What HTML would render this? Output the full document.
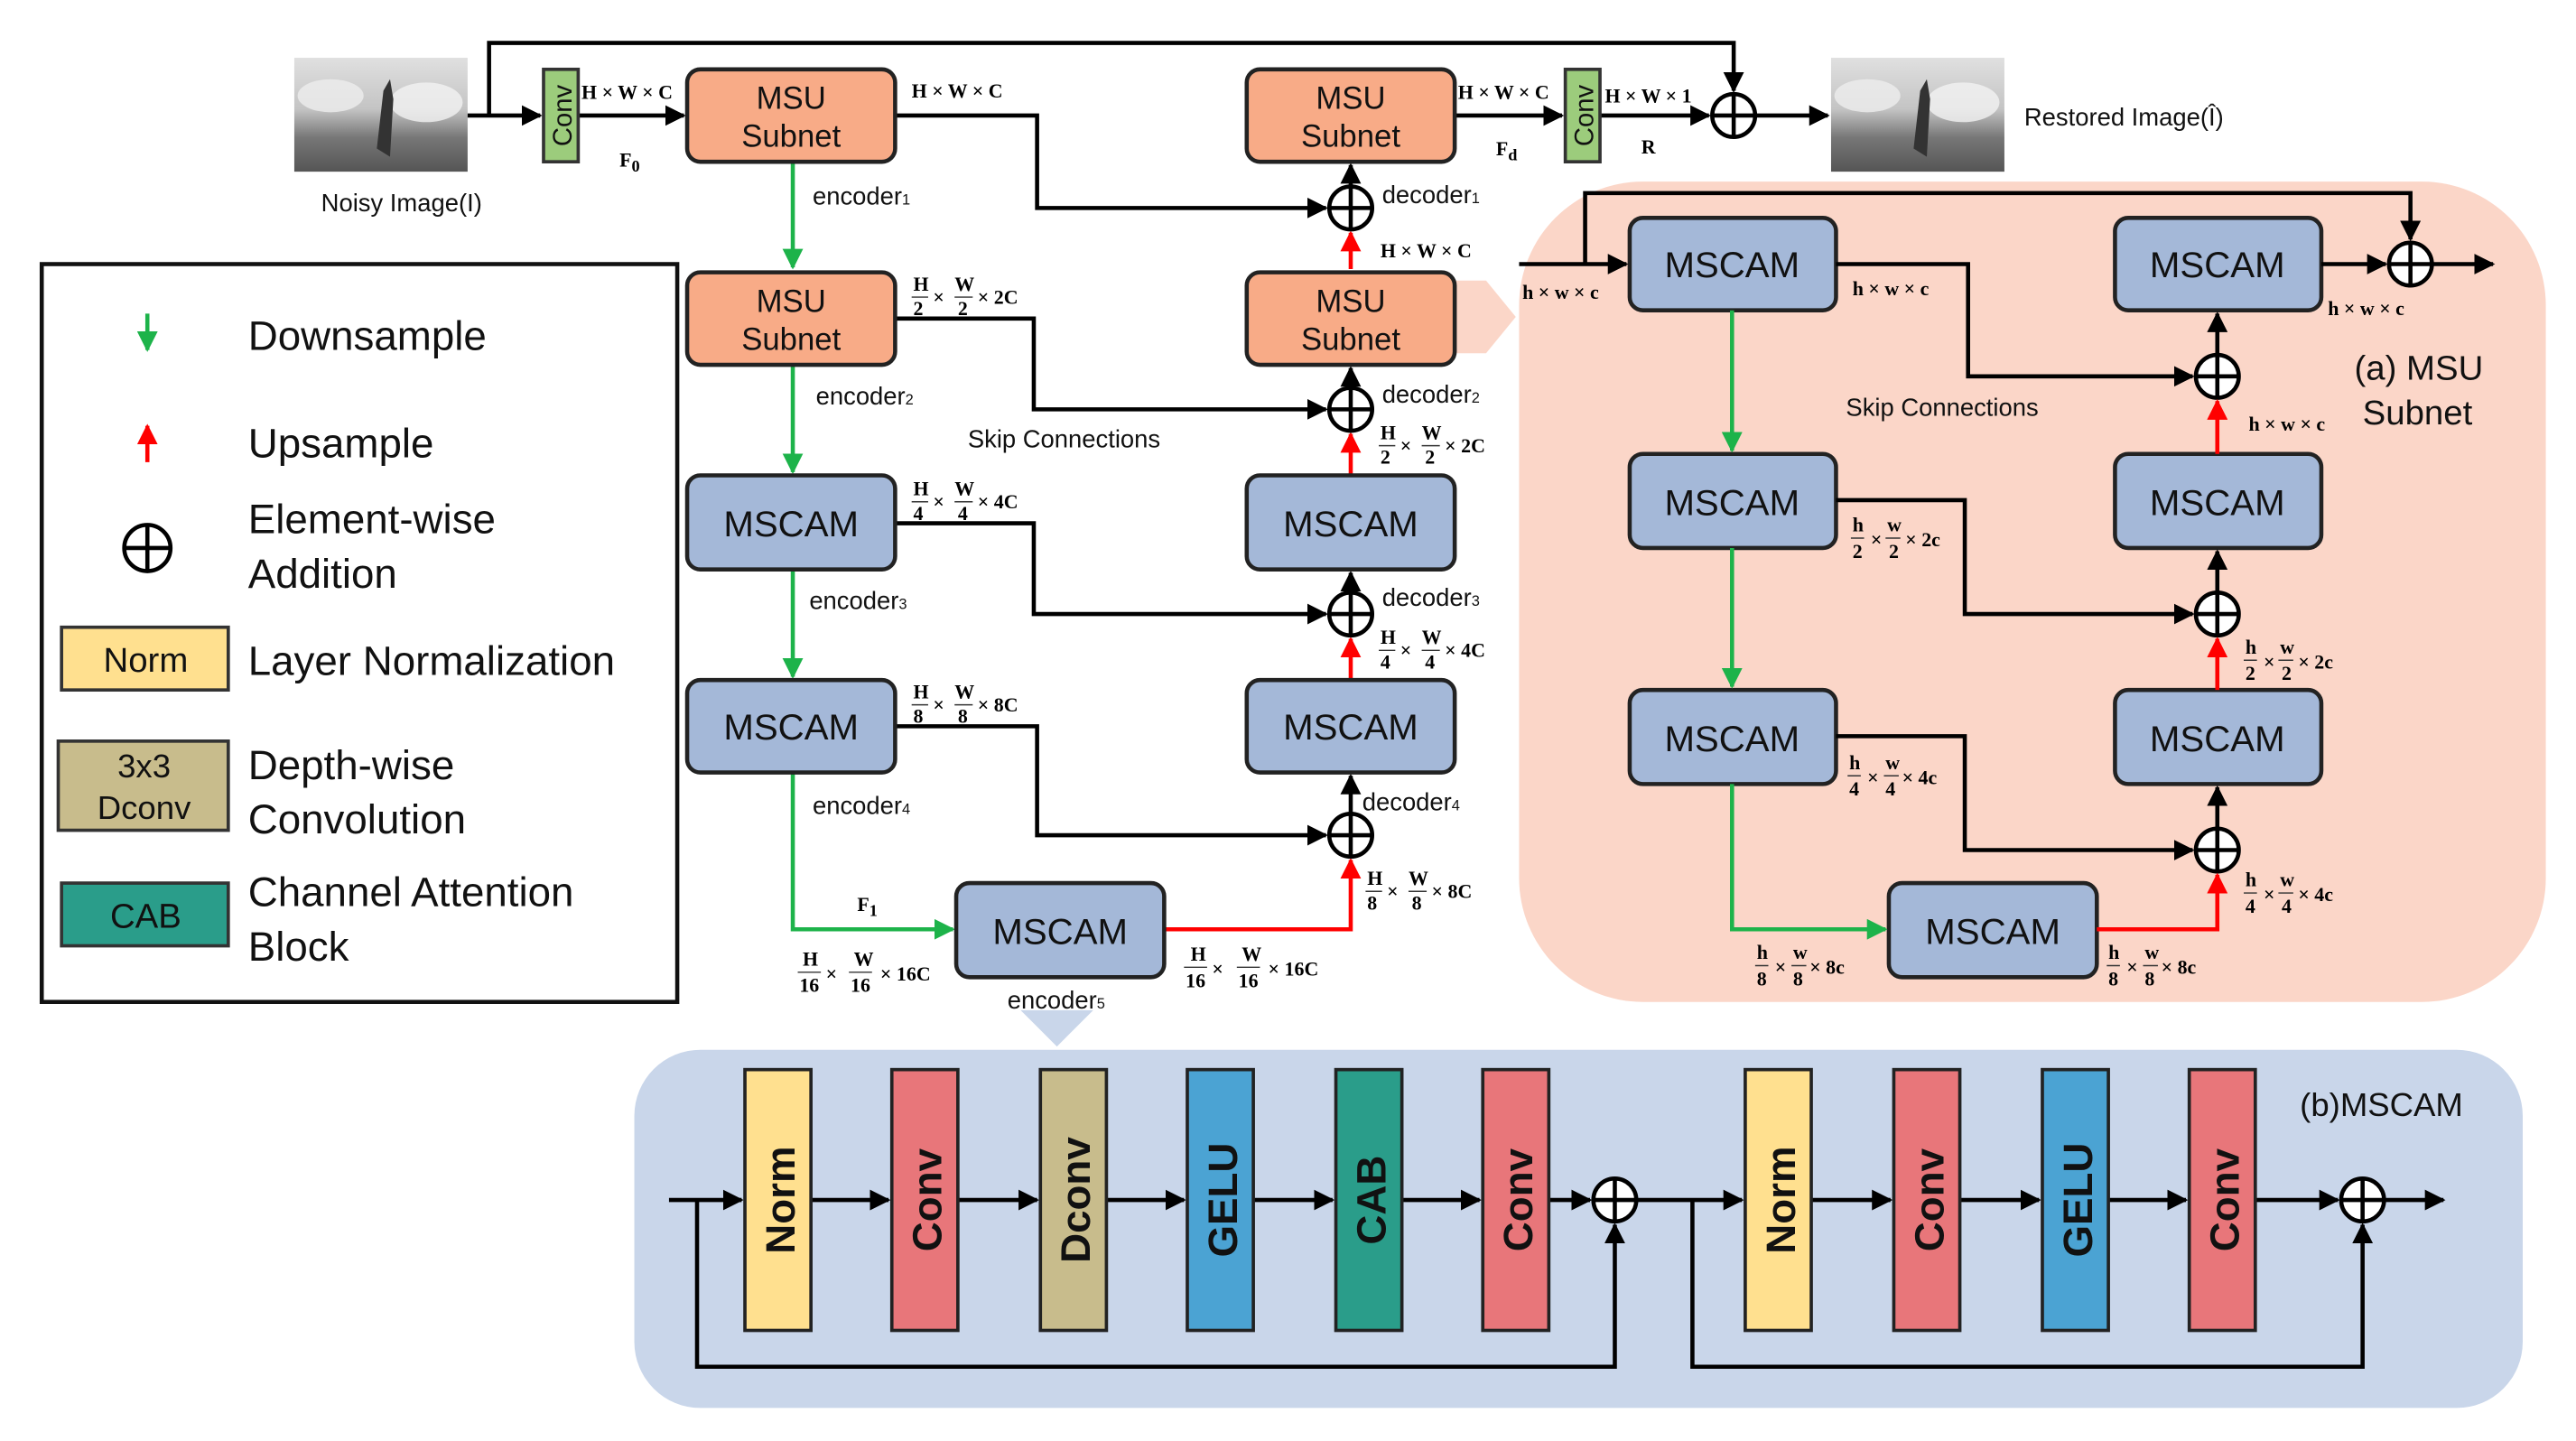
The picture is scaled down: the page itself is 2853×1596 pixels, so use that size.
<!DOCTYPE html>
<html><head><meta charset="utf-8"><style>
html,body{margin:0;padding:0;background:#fff}
svg{display:block}
text{font-family:"Liberation Sans",sans-serif}
text.s, .s text{font-family:"Liberation Serif",serif;font-size:12px;font-weight:bold}
.b{font-size:19px;fill:#111}
.m{font-size:22px;fill:#111}
.lg{font-size:25px;fill:#111}
.lab{font-size:15px;fill:#111}
</style></head><body>
<svg width="2853" height="1596" viewBox="0 0 1560 873" xmlns="http://www.w3.org/2000/svg">
<defs>
<marker id="ak" viewBox="0 0 10 10" refX="9" refY="5" markerWidth="5" markerHeight="5" orient="auto"><path d="M0,0L10,5L0,10z" fill="#000"/></marker>
<marker id="ag" viewBox="0 0 10 10" refX="9" refY="5" markerWidth="5" markerHeight="5" orient="auto"><path d="M0,0L10,5L0,10z" fill="#1db34a"/></marker>
<marker id="ar" viewBox="0 0 10 10" refX="9" refY="5" markerWidth="5" markerHeight="5" orient="auto"><path d="M0,0L10,5L0,10z" fill="#f00"/></marker>
<linearGradient id="img" x1="0" y1="0" x2="0" y2="1"><stop offset="0" stop-color="#e0e0e0"/><stop offset=".45" stop-color="#c4c4c4"/><stop offset=".7" stop-color="#777"/><stop offset="1" stop-color="#555"/></linearGradient>
</defs>

<!-- panels -->
<rect x="920" y="110" width="622" height="497" rx="75" fill="#fbd6c8"/>
<polygon points="880,170 900,170 918,192 900,214 880,214" fill="#fbd6c8"/>
<rect x="384" y="636" width="1144" height="217" rx="40" fill="#c9d6ea"/>
<polygon points="618,612 662,612 640,634" fill="#c9d6ea"/>

<!-- images -->
<g>
<rect x="178" y="35" width="105" height="69" fill="url(#img)"/>
<ellipse cx="200" cy="58" rx="20" ry="10" fill="#eee" opacity=".8"/>
<ellipse cx="258" cy="62" rx="22" ry="12" fill="#f2f2f2" opacity=".8"/>
<path d="M228,90 L232,55 L236,48 L238,60 L236,95z" fill="#333"/>
</g>
<g>
<rect x="1109" y="35" width="105" height="69" fill="url(#img)"/>
<ellipse cx="1131" cy="58" rx="20" ry="10" fill="#eee" opacity=".8"/>
<ellipse cx="1189" cy="62" rx="22" ry="12" fill="#f2f2f2" opacity=".8"/>
<path d="M1159,90 L1163,55 L1167,48 L1169,60 L1167,95z" fill="#333"/>
</g>
<text x="243" y="128" text-anchor="middle" class="lab">Noisy Image(I)</text>
<text x="1226" y="76" class="lab">Restored Image(Î)</text>

<!-- top lines -->
<g stroke="#000" stroke-width="2.5" fill="none">
<path d="M283,70 H327" marker-end="url(#ak)"/>
<path d="M296,70 V26 H1050 V55" marker-end="url(#ak)"/>
<path d="M350,70 H414" marker-end="url(#ak)"/>
<path d="M542,70 H628 V126 H803" marker-end="url(#ak)"/>
<path d="M880,70 H946" marker-end="url(#ak)"/>
<path d="M969,70 H1035" marker-end="url(#ak)"/>
<path d="M1063,70 H1107" marker-end="url(#ak)"/>
<path d="M542,193 H626 V248 H803" marker-end="url(#ak)"/>
<path d="M542,317 H626 V372 H803" marker-end="url(#ak)"/>
<path d="M542,440 H628 V506 H803" marker-end="url(#ak)"/>
<path d="M818,113 V100" marker-end="url(#ak)"/>
<path d="M818,235 V223" marker-end="url(#ak)"/>
<path d="M818,359 V347" marker-end="url(#ak)"/>
<path d="M818,493 V470" marker-end="url(#ak)"/>
</g>
<g stroke="#1db34a" stroke-width="2.5" fill="none">
<path d="M480,98 V162" marker-end="url(#ag)"/>
<path d="M480,221 V286" marker-end="url(#ag)"/>
<path d="M480,345 V410" marker-end="url(#ag)"/>
<path d="M480,468 V563 H577" marker-end="url(#ag)"/>
</g>
<g stroke="#f00" stroke-width="2.5" fill="none">
<path d="M818,163 V141" marker-end="url(#ar)"/>
<path d="M818,288 V263" marker-end="url(#ar)"/>
<path d="M818,412 V387" marker-end="url(#ar)"/>
<path d="M705,563 H818 V521" marker-end="url(#ar)"/>
</g>

<!-- conv blocks -->
<rect x="329" y="42" width="21" height="56" fill="#9ccc7c" stroke="#333" stroke-width="2"/>
<text transform="translate(346,70) rotate(-90)" text-anchor="middle" font-size="16" fill="#111">Conv</text>
<rect x="948" y="42" width="21" height="56" fill="#9ccc7c" stroke="#333" stroke-width="2"/>
<text transform="translate(965,70) rotate(-90)" text-anchor="middle" font-size="16" fill="#111">Conv</text>

<!-- MSU subnets -->
<g fill="#f8ab87" stroke="#222" stroke-width="2.5">
<rect x="416" y="42" width="126" height="56" rx="8"/>
<rect x="416" y="165" width="126" height="56" rx="8"/>
<rect x="755" y="42" width="126" height="56" rx="8"/>
<rect x="755" y="165" width="126" height="56" rx="8"/>
</g>
<g text-anchor="middle" class="b">
<text x="479" y="66">MSU</text><text x="479" y="89">Subnet</text>
<text x="479" y="189">MSU</text><text x="479" y="212">Subnet</text>
<text x="818" y="66">MSU</text><text x="818" y="89">Subnet</text>
<text x="818" y="189">MSU</text><text x="818" y="212">Subnet</text>
</g>

<!-- MSCAM boxes -->
<g fill="#a4b8d8" stroke="#222" stroke-width="2.5">
<rect x="416" y="288" width="126" height="57" rx="8"/>
<rect x="416" y="412" width="126" height="56" rx="8"/>
<rect x="755" y="288" width="126" height="57" rx="8"/>
<rect x="755" y="412" width="126" height="56" rx="8"/>
<rect x="579" y="535" width="126" height="57" rx="8"/>
<rect x="987" y="132" width="125" height="56" rx="8"/>
<rect x="987" y="275" width="125" height="57" rx="8"/>
<rect x="987" y="418" width="125" height="57" rx="8"/>
<rect x="1281" y="132" width="125" height="56" rx="8"/>
<rect x="1281" y="275" width="125" height="57" rx="8"/>
<rect x="1281" y="418" width="125" height="57" rx="8"/>
<rect x="1144" y="535" width="126" height="57" rx="8"/>
</g>
<g text-anchor="middle" class="m">
<text x="479" y="325">MSCAM</text><text x="479" y="448">MSCAM</text>
<text x="818" y="325">MSCAM</text><text x="818" y="448">MSCAM</text>
<text x="642" y="572">MSCAM</text>
<text x="1049" y="168">MSCAM</text><text x="1049" y="312">MSCAM</text><text x="1049" y="455">MSCAM</text>
<text x="1343" y="168">MSCAM</text><text x="1343" y="312">MSCAM</text><text x="1343" y="455">MSCAM</text>
<text x="1207" y="572">MSCAM</text>
</g>

<!-- legend -->
<rect x="25" y="160" width="385" height="447" fill="#fff" stroke="#111" stroke-width="2.5"/>
<path d="M89,190 V212" stroke="#1db34a" stroke-width="2.5" marker-end="url(#ag)"/>
<path d="M89,280 V258" stroke="#f00" stroke-width="2.5" marker-end="url(#ar)"/>
<g class="lg">
<text x="150" y="212">Downsample</text>
<text x="150" y="277">Upsample</text>
<text x="150" y="323">Element-wise</text>
<text x="150" y="356">Addition</text>
<text x="150" y="409">Layer Normalization</text>
<text x="150" y="472">Depth-wise</text>
<text x="150" y="505">Convolution</text>
<text x="150" y="549">Channel Attention</text>
<text x="150" y="582">Block</text>
</g>
<rect x="37" y="380" width="101" height="38" fill="#ffe08f" stroke="#333" stroke-width="2"/>
<text x="88" y="407" text-anchor="middle" font-size="21" fill="#111">Norm</text>
<rect x="35" y="449" width="103" height="54" fill="#c8bc8c" stroke="#333" stroke-width="2"/>
<text x="87" y="471" text-anchor="middle" font-size="20" fill="#111">3x3</text>
<text x="87" y="496" text-anchor="middle" font-size="20" fill="#111">Dconv</text>
<rect x="37" y="535" width="101" height="38" fill="#2a9d8a" stroke="#333" stroke-width="2"/>
<text x="88" y="562" text-anchor="middle" font-size="21" fill="#111">CAB</text>

<!-- circles -->
<g fill="#fff" stroke="#000" stroke-width="2.5">
<circle cx="1050" cy="70" r="13"/><circle cx="818" cy="126" r="13"/><circle cx="818" cy="248" r="13"/>
<circle cx="818" cy="372" r="13"/><circle cx="818" cy="506" r="13"/>
<circle cx="1460" cy="160" r="13"/><circle cx="1343" cy="228" r="13"/><circle cx="1343" cy="372" r="13"/><circle cx="1343" cy="515" r="13"/>
<circle cx="89" cy="332" r="14"/>
</g>
<g stroke="#000" stroke-width="2.5">
<path d="M1037,70H1063M1050,57V83M805,126H831M818,113V139M805,248H831M818,235V261M805,372H831M818,359V385M805,506H831M818,493V519"/>
<path d="M1447,160H1473M1460,147V173M1330,228H1356M1343,215V241M1330,372H1356M1343,359V385M1330,515H1356M1343,502V528M75,332H103M89,318V346"/>
</g>

<!-- labels top -->
<g class="s">
<text x="352" y="60">H × W × C</text>
<text x="552" y="59">H × W × C</text>
<text x="883" y="60">H × W × C</text>
<text x="972" y="62">H × W × 1</text>
<text x="836" y="156">H × W × C</text>
<text x="375" y="101" font-size="15">F<tspan font-size="10" dy="3">0</tspan></text>
<text x="906" y="94" font-size="15">F<tspan font-size="10" dy="3">d</tspan></text>
<text x="994" y="93" font-size="15">R</text>
<text x="519" y="552" font-size="15">F<tspan font-size="10" dy="3">1</tspan></text>
</g>
<g class="lab">
<text x="492" y="124">encoder<tspan font-size="9">1</tspan></text>
<text x="494" y="245">encoder<tspan font-size="9">2</tspan></text>
<text x="490" y="369">encoder<tspan font-size="9">3</tspan></text>
<text x="492" y="493">encoder<tspan font-size="9">4</tspan></text>
<text x="610" y="611">encoder<tspan font-size="9">5</tspan></text>
<text x="837" y="123">decoder<tspan font-size="9">1</tspan></text>
<text x="837" y="244">decoder<tspan font-size="9">2</tspan></text>
<text x="837" y="367">decoder<tspan font-size="9">3</tspan></text>
<text x="825" y="491">decoder<tspan font-size="9">4</tspan></text>
<text x="586" y="271">Skip Connections</text>
<text x="1118" y="252">Skip Connections</text>
</g>

<!-- fraction labels -->
<g class="s">
<text x="553" y="176">H</text><text x="553" y="191">2</text>
<text x="565" y="184">×</text><text x="578" y="176">W</text><text x="580" y="191">2</text><text x="592" y="184">× 2C</text>
<text x="553" y="300">H</text><text x="553" y="315">4</text><text x="565" y="308">×</text><text x="578" y="300">W</text><text x="580" y="315">4</text><text x="592" y="308">× 4C</text>
<text x="553" y="423">H</text><text x="553" y="438">8</text><text x="565" y="431">×</text><text x="578" y="423">W</text><text x="580" y="438">8</text><text x="592" y="431">× 8C</text>
<text x="836" y="266">H</text><text x="836" y="281">2</text><text x="848" y="274">×</text><text x="861" y="266">W</text><text x="863" y="281">2</text><text x="875" y="274">× 2C</text>
<text x="836" y="390">H</text><text x="836" y="405">4</text><text x="848" y="398">×</text><text x="861" y="390">W</text><text x="863" y="405">4</text><text x="875" y="398">× 4C</text>
<text x="828" y="536">H</text><text x="828" y="551">8</text><text x="840" y="544">×</text><text x="853" y="536">W</text><text x="855" y="551">8</text><text x="867" y="544">× 8C</text>
<text x="486" y="585">H</text><text x="484" y="601">16</text><text x="500" y="594">×</text><text x="517" y="585">W</text><text x="515" y="601">16</text><text x="533" y="594">× 16C</text>
<text x="721" y="582">H</text><text x="718" y="598">16</text><text x="734" y="591">×</text><text x="752" y="582">W</text><text x="750" y="598">16</text><text x="768" y="591">× 16C</text>
<text x="922" y="181">h × w × c</text>
<text x="1122" y="179">h × w × c</text>
<text x="1410" y="191">h × w × c</text>
<text x="1362" y="261">h × w × c</text>
<text x="1122" y="322">h</text><text x="1122" y="338">2</text><text x="1133" y="331">×</text><text x="1143" y="322">w</text><text x="1144" y="338">2</text><text x="1154" y="331">× 2c</text>
<text x="1360" y="396">h</text><text x="1360" y="412">2</text><text x="1371" y="405">×</text><text x="1381" y="396">w</text><text x="1382" y="412">2</text><text x="1392" y="405">× 2c</text>
<text x="1120" y="466">h</text><text x="1120" y="482">4</text><text x="1131" y="475">×</text><text x="1142" y="466">w</text><text x="1142" y="482">4</text><text x="1152" y="475">× 4c</text>
<text x="1360" y="537">h</text><text x="1360" y="553">4</text><text x="1371" y="546">×</text><text x="1381" y="537">w</text><text x="1382" y="553">4</text><text x="1392" y="546">× 4c</text>
<text x="1064" y="581">h</text><text x="1064" y="597">8</text><text x="1075" y="590">×</text><text x="1086" y="581">w</text><text x="1086" y="597">8</text><text x="1096" y="590">× 8c</text>
<text x="1277" y="581">h</text><text x="1277" y="597">8</text><text x="1288" y="590">×</text><text x="1299" y="581">w</text><text x="1299" y="597">8</text><text x="1309" y="590">× 8c</text>
</g>
<g stroke="#333" stroke-width="0.8">
<path d="M552,180h10M578,180h11M552,304h10M578,304h11M552,427h10M578,427h11"/>
<path d="M835,270h10M861,270h11M835,394h10M861,394h11M827,540h10M853,540h11"/>
<path d="M483,589h14M514,589h14M717,586h14M749,586h14"/>
<path d="M1121,326h8M1142,326h9M1359,400h8M1380,400h9M1119,470h8M1141,470h9M1359,541h8M1380,541h9M1063,585h8M1085,585h9M1276,585h8M1298,585h9"/>
</g>

<!-- right panel lines -->
<g stroke="#000" stroke-width="2.5" fill="none">
<path d="M920,160 H985" marker-end="url(#ak)"/>
<path d="M960,160 V117 H1460 V145" marker-end="url(#ak)"/>
<path d="M1112,160 H1192 V228 H1328" marker-end="url(#ak)"/>
<path d="M1112,303 H1190 V372 H1328" marker-end="url(#ak)"/>
<path d="M1112,446 H1190 V515 H1328" marker-end="url(#ak)"/>
<path d="M1406,160 H1445" marker-end="url(#ak)"/>
<path d="M1473,160 H1510" marker-end="url(#ak)"/>
<path d="M1343,215 V190" marker-end="url(#ak)"/>
<path d="M1343,359 V334" marker-end="url(#ak)"/>
<path d="M1343,502 V477" marker-end="url(#ak)"/>
</g>
<g stroke="#1db34a" stroke-width="2.5" fill="none">
<path d="M1049,188 V273" marker-end="url(#ag)"/>
<path d="M1049,332 V416" marker-end="url(#ag)"/>
<path d="M1049,475 V563 H1142" marker-end="url(#ag)"/>
</g>
<g stroke="#f00" stroke-width="2.5" fill="none">
<path d="M1343,275 V243" marker-end="url(#ar)"/>
<path d="M1343,418 V387" marker-end="url(#ar)"/>
<path d="M1270,563 H1343 V530" marker-end="url(#ar)"/>
</g>
<text x="1426" y="230" font-size="21" fill="#111">(a) MSU</text>
<text x="1431" y="257" font-size="21" fill="#111">Subnet</text>

<!-- MSCAM detail -->
<g stroke="#000" stroke-width="2.5" fill="none">
<path d="M405,727 H449" marker-end="url(#ak)"/>
<path d="M491,727 H538" marker-end="url(#ak)"/>
<path d="M580,727 H628" marker-end="url(#ak)"/>
<path d="M670,727 H717" marker-end="url(#ak)"/>
<path d="M759,727 H807" marker-end="url(#ak)"/>
<path d="M849,727 H896" marker-end="url(#ak)"/>
<path d="M938,727 H963" marker-end="url(#ak)"/>
<path d="M991,727 H1055" marker-end="url(#ak)"/>
<path d="M1097,727 H1145" marker-end="url(#ak)"/>
<path d="M1187,727 H1235" marker-end="url(#ak)"/>
<path d="M1277,727 H1324" marker-end="url(#ak)"/>
<path d="M1366,727 H1416" marker-end="url(#ak)"/>
<path d="M1444,727 H1480" marker-end="url(#ak)"/>
<path d="M422,727 V828 H978 V742" marker-end="url(#ak)"/>
<path d="M1025,727 V828 H1431 V742" marker-end="url(#ak)"/>
</g>
<g fill="#fff" stroke="#000" stroke-width="2.5">
<circle cx="978" cy="727" r="13"/><circle cx="1431" cy="727" r="13"/>
</g>
<path d="M965,727H991M978,714V740M1418,727H1444M1431,714V740" stroke="#000" stroke-width="2.5"/>
<g stroke="#222" stroke-width="2">
<rect x="451" y="648" width="40" height="158" fill="#ffe08f"/>
<rect x="540" y="648" width="40" height="158" fill="#e8767a"/>
<rect x="630" y="648" width="40" height="158" fill="#c8bc8c"/>
<rect x="719" y="648" width="40" height="158" fill="#4ba3d3"/>
<rect x="809" y="648" width="40" height="158" fill="#2a9d8a"/>
<rect x="898" y="648" width="40" height="158" fill="#e8767a"/>
<rect x="1057" y="648" width="40" height="158" fill="#ffe08f"/>
<rect x="1147" y="648" width="40" height="158" fill="#e8767a"/>
<rect x="1237" y="648" width="40" height="158" fill="#4ba3d3"/>
<rect x="1326" y="648" width="40" height="158" fill="#e8767a"/>
</g>
<g font-size="25" font-weight="bold" fill="#111" text-anchor="middle">
<text transform="translate(481,727) rotate(-90)">Norm</text>
<text transform="translate(570,727) rotate(-90)">Conv</text>
<text transform="translate(660,727) rotate(-90)">Dconv</text>
<text transform="translate(749,727) rotate(-90)">GELU</text>
<text transform="translate(839,727) rotate(-90)">CAB</text>
<text transform="translate(928,727) rotate(-90)">Conv</text>
<text transform="translate(1087,727) rotate(-90)">Norm</text>
<text transform="translate(1177,727) rotate(-90)">Conv</text>
<text transform="translate(1267,727) rotate(-90)">GELU</text>
<text transform="translate(1356,727) rotate(-90)">Conv</text>
</g>
<text x="1393" y="676" font-size="20" fill="#111">(b)MSCAM</text>
</svg>
</body></html>
